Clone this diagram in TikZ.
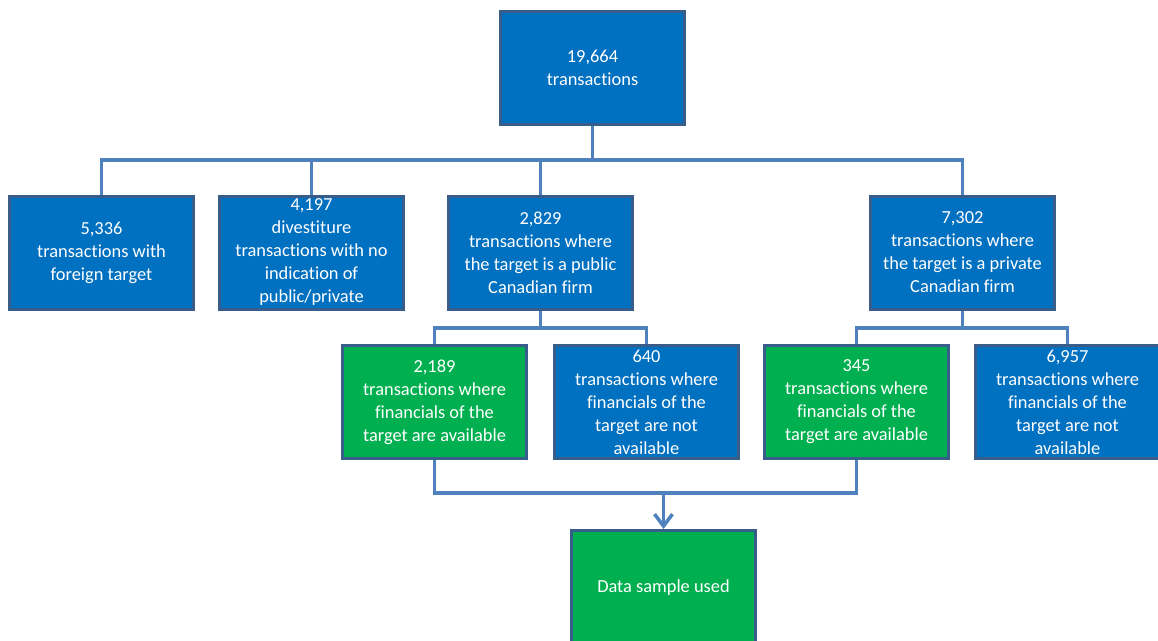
\documentclass[tikz,border=0pt]{standalone}
\usepackage{fontspec}
\setmainfont{Carlito}[Ligatures=NoCommon]
\usetikzlibrary{arrows.meta}
\tikzset{>={Straight Barb[length=12pt,width=18pt]}}
\definecolor{boxblue}{HTML}{0070C0}
\definecolor{boxgreen}{HTML}{00B050}
\definecolor{boxline}{HTML}{385D8A}
\definecolor{linkblue}{HTML}{4F81BD}

\begin{document}
\begin{tikzpicture}[x=1pt,y=-1pt,
	bluenode/.style={rectangle,draw=boxline,line width=3pt,fill=boxblue,text=white,minimum width=184pt,minimum height=113pt,inner sep=0pt,align=center,font=\fontsize{18.4}{23}\selectfont},
	greennode/.style={bluenode,fill=boxgreen,minimum height=113pt},
	link/.style={draw=linkblue,line width=3.5pt}]

	\useasboundingbox (0,0) rectangle (1158,640);

	\node[bluenode] (1) at (592.5,68) {19,664\\transactions};

	\node[bluenode] (2) at (101.5,252.5) {5,336\\transactions with\\foreign target};
	\node[bluenode] (3) at (311.5,252.5) {4,197\\divestiture\\transactions with no\\indication of\\public/private};
	\node[bluenode] (4) at (540.5,252.5) {2,829\\transactions where\\the target is a public\\Canadian firm};
	\node[bluenode] (5) at (962.5,252.5) {7,302\\transactions where\\the target is a private\\Canadian firm};

	\node[greennode] (6) at (434.5,402) {2,189\\transactions where\\financials of the\\target are available};
	\node[bluenode] (7) at (646.5,402) {640\\transactions where\\financials of the\\target are not\\available};
	\node[greennode] (8) at (856.5,402) {345\\transactions where\\financials of the\\target are available};
	\node[bluenode] (9) at (1067.5,402) {6,957\\transactions where\\financials of the\\target are not\\available};

	\node[greennode,minimum height=115pt] (10) at (663.5,588) {Data sample used};

	\coordinate (j1) at (592.5,160);
	\coordinate (j2) at (540.5,328);
	\coordinate (j3) at (962.5,328);
	\coordinate (j4) at (663.5,493);

	% first split
	\path[link] (1.south) -- (j1)
		(2.north) |- (5.north |- j1) -- (5.north)
		(3.north) -- (3.north |- j1)
		(4.north) -- (4.north |- j1);

	% public / private splits
	\path[link] (4.south) -- (j2)
		(6.north) |- (7.north |- j2) -- (7.north);
	\path[link] (5.south) -- (j3)
		(8.north) |- (9.north |- j3) -- (9.north);

	% sample
	\path[link] (6.south) |- (8.south |- j4) -- (8.south);
	\path[link,->] (j4) -- (10.north);
\end{tikzpicture}
\end{document}
